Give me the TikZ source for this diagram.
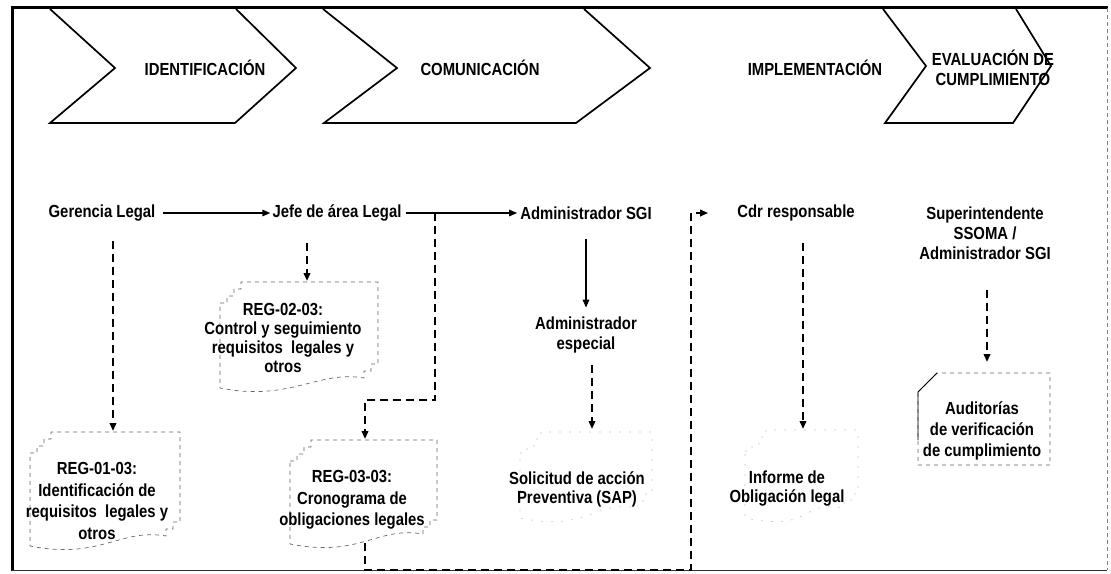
\documentclass[tikz,border=0pt]{standalone}
\usepackage{fontspec}
\setmainfont{Liberation Sans}[FakeStretch=0.85]
\usetikzlibrary{arrows.meta}

% stacked-document outline with stepped top-left and bottom-right corners
\newcommand\multidocpath[5]{%
  \draw[#5] (#1,{#2+21}) -- ++(7,0) -- ++(0,-7) -- ++(7,0) -- ++(0,-7) -- ++(7,0) -- ++(0,-7)
    -- (#3,#2) -- (#3,{#4-28}) -- ++(-7,0) -- ++(0,7) -- ++(-7,0) -- ++(0,7)
    .. controls ({#3-60},{#4-22}) and ({#1+70},{#4+10}) .. (#1,{#4-4}) -- cycle;}

\begin{document}
\begin{tikzpicture}[x=1pt,y=-1pt,
  every node/.style={font=\fontsize{17.5}{20}\selectfont\bfseries, align=center, inner sep=0pt},
  doctext/.style={font=\fontsize{17.5}{21.5}\selectfont\bfseries},
  flow/.style={line width=1.5pt, -{Triangle[length=8pt,width=6.5pt]}},
  dflow/.style={line width=2pt, dash pattern=on 8pt off 5pt, -{Triangle[length=8pt,width=6.5pt]}},
  chev/.style={line width=1.7pt, line join=miter},
  docline/.style={black!60, line width=0.7pt, dash pattern=on 4pt off 4pt},
  faintdoc/.style={black!22, line width=0.6pt, dash pattern=on 2pt off 8pt}
]
\useasboundingbox (0,0) rectangle (1111,573);

% frame
\draw[line width=3pt] (12,571) -- (12,7) -- (1108,7);
\draw[black!50, line width=0.6pt, dash pattern=on 4pt off 3pt] (1107,8) -- (1107,570);
\draw[black!80, line width=1pt] (12,570) -- (1107,570);

% phase chevrons
\draw[chev] (50,9) -- (115,68) -- (50,123) -- (235,123) -- (296,68) -- (236,9);
\draw[chev] (323,9) -- (397,68) -- (324,123) -- (576,123) -- (650,68) -- (584,9);
\draw[chev] (883,9) -- (926,66) -- (885,123) -- (1013,123) -- (1051,66) -- (1016,9);

\node (ph1) at (205,68) {IDENTIFICACIÓN};
\node (ph2) at (480,68) {COMUNICACIÓN};
\node (ph3) at (815,68) {IMPLEMENTACIÓN};
\node (ph4) at (993,68) {EVALUACIÓN DE\\CUMPLIMIENTO};

% responsible roles
\node (ger) at (102,213) {Gerencia Legal};
\node (jefe) at (337,213) {Jefe de área Legal};
\node (adm) at (586,213) {Administrador SGI};
\node (cdr) at (796,213) {Cdr responsable};
\node (sup) at (985,233) {Superintendente\\SSOMA /\\Administrador SGI};
\node (esp) at (586,335) {Administrador\\especial};

% document outlines
\multidocpath{30}{432}{180}{550}{docline}
\multidocpath{220}{282}{378}{392}{docline}
\multidocpath{290}{440}{437}{548}{docline}
\multidocpath{520}{432}{652}{522}{faintdoc}
\multidocpath{745}{430}{858}{522}{faintdoc}
\draw[docline] (918,392) -- (937,373) -- (1050,373) -- (1050,465) -- (918,465) -- cycle;
\draw[line width=0.9pt] (918,440) -- (918,392) -- (937,373);

% document texts
\node[doctext] (t01) at (97,501) {REG-01-03:\\Identificación de\\requisitos~ legales y\\otros};
\node[doctext, font=\fontsize{17.5}{19.3}\selectfont\bfseries] (t02) at (283,338) {REG-02-03:\\Control y seguimiento\\requisitos~ legales y\\otros};
\node[doctext] (t03) at (352,500) {REG-03-03:\\Cronograma de\\obligaciones legales};
\node[doctext, font=\fontsize{17.5}{19}\selectfont\bfseries] (tsap) at (577,489) {Solicitud de acción\\Preventiva (SAP)};
\node[doctext, font=\fontsize{17.5}{19}\selectfont\bfseries] (tinf) at (787,489) {Informe de\\Obligación legal};
\node[doctext, font=\fontsize{17.5}{21}\selectfont\bfseries] (taud) at (982,431) {Auditorías\\de verificación\\de cumplimiento};

% connector end points
\coordinate (d01top) at (113,431);
\coordinate (d02top) at (307,281);
\coordinate (d03top) at (365,439);
\coordinate (dsaptop) at (592,429);
\coordinate (dinftop) at (803,429);
\coordinate (daudtop) at (987,362);
\coordinate (br) at (435,213);
\coordinate (b1) at (435,400);
\coordinate (b2) at (365,400);
\coordinate (c1) at (365,543);
\coordinate (c2) at (365,570);
\coordinate (c3) at (691,570);
\coordinate (c4) at (691,213);

% solid flow
\draw[flow, shorten >=2pt] ([xshift=7pt]ger.east) -- (jefe.west);
\draw[flow, shorten >=3pt] ([xshift=4pt]jefe.east) -- (adm.west);
\draw[flow, shorten <=19pt, shorten >=9pt] (adm.south) -- (esp.north);

% dashed flow
\draw[dflow, shorten <=20pt] (ger.south -| d01top) -- (d01top);
\draw[dflow, shorten <=22pt] (jefe.south -| d02top) -- (d02top);
\draw[dflow, shorten <=12pt] (esp.south -| dsaptop) -- (dsaptop);
\draw[dflow, shorten <=22pt] (cdr.south -| dinftop) -- (dinftop);
\draw[dflow, shorten <=30pt] (sup.south -| daudtop) -- (daudtop);
\draw[dflow] (br) -- (b1) -- (b2) -- (d03top);
\draw[dflow, shorten >=29pt] (c1) -- (c2) -- (c3) -- (c4) -- (cdr.west);
\end{tikzpicture}
\end{document}
